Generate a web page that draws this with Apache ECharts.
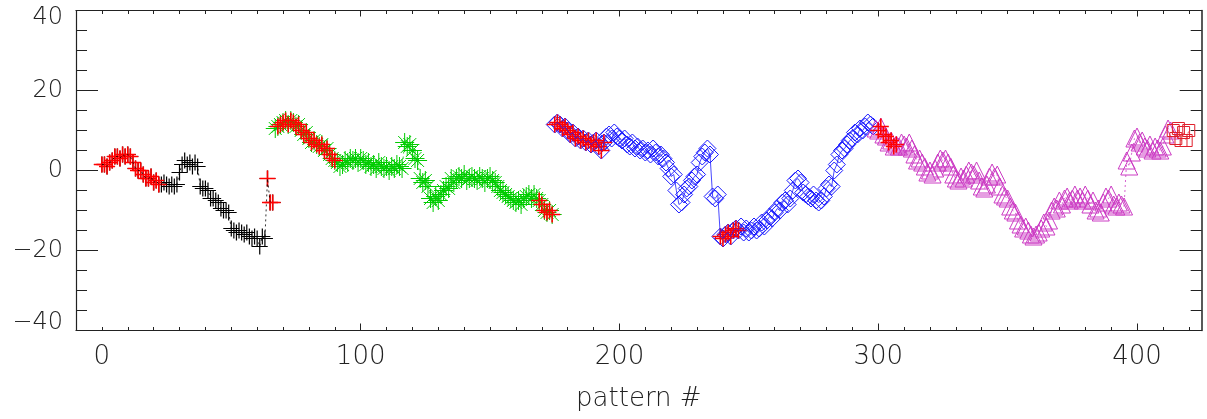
<!DOCTYPE html>
<html><head><meta charset="utf-8">
<script src="https://cdn.jsdelivr.net/npm/echarts@6/dist/echarts.min.js"></script>
<style>html,body{margin:0;padding:0;background:#fff}#c{width:1207px;height:419px}</style>
</head><body><div id="c"></div>
<script>
// ---- data ----
const xTickLabels = [0, 100, 200, 300, 400];
const xMajorTicks = [100, 200, 300, 400];
const xMinorTicks = [0,10,20,30,40,50,60,70,80,90,110,120,130,140,150,160,170,180,190,210,220,230,240,250,260,270,280,290,310,320,330,340,350,360,370,380,390,410,420];
const yTickLabels = [-40, -20, 0, 20, 40];

const blackStart = 0;
const blackY = [1.5,1.5,1.0,2.0,2.5,3.5,3.5,3.0,4.0,3.5,
  4.0,3.5,2.0,0.5,0.0,0.0,-1.0,-2.0,-2.0,-1.5,
  -3.0,-2.5,-3.5,-3.5,-3.0,-3.5,-4.0,-3.5,-4.0,-3.5,
  -0.5,1.5,2.5,1.5,2.0,1.0,2.0,1.0,-4.0,-4.5,
  -4.5,-5.0,-7.0,-7.0,-7.5,-8.0,-9.5,-10.0,-10.0,-10.5,
  -14.5,-15.0,-15.5,-15.0,-15.5,-16.0,-15.5,-16.5,-17.0,-16.5,
  -17.0,-19.0,-16.5,-17.0,-2.0,-8.0,-8.0];

const greenStart = 67;
const greenY = [10.5,11.0,11.5,12.0,12.5,11.5,12.5,12.0,11.0,11.5,
  10.0,9.0,9.5,8.0,7.0,7.5,6.5,6.0,6.5,5.0,
  5.5,4.0,3.0,2.5,2.0,1.0,1.5,2.5,2.0,3.0,
  2.5,3.0,2.0,3.0,2.5,1.5,2.0,1.0,1.5,0.5,
  2.0,1.0,0.5,1.0,0.0,1.0,0.5,1.5,1.0,0.5,
  7.0,6.0,6.5,5.0,3.0,2.5,-2.0,-3.0,-2.5,-4.0,
  -7.0,-8.0,-6.5,-7.5,-6.0,-5.0,-4.0,-4.5,-2.0,-3.0,
  -2.0,-1.5,-2.0,-1.0,-2.5,-2.0,-1.5,-2.0,-2.5,-1.5,
  -2.0,-3.0,-2.0,-1.5,-2.5,-3.0,-4.0,-5.0,-5.5,-6.0,
  -6.5,-7.0,-7.5,-8.0,-7.5,-8.5,-7.0,-6.5,-6.0,-7.0,
  -6.0,-7.0,-7.5,-8.5,-10.0,-10.5,-10.0,-11.0];

const blueStart = 175;
const blueY = [11.5,12.0,11.5,10.5,11.0,10.0,9.0,9.5,8.0,8.5,
  7.5,8.0,7.0,7.5,6.5,7.0,7.5,6.0,5.0,7.0,
  8.5,9.0,8.0,9.5,8.5,8.0,7.5,8.0,6.5,6.0,
  7.0,5.5,6.0,5.0,5.5,4.5,5.0,4.0,5.5,4.5,
  3.5,4.0,3.0,2.0,0.5,-1.5,-1.0,-5.0,-8.5,-8.0,
  -6.0,-4.5,-4.0,-2.5,-1.5,-1.0,2.0,3.5,4.5,5.5,
  4.0,-6.5,-7.0,-6.0,-16.5,-17.0,-16.0,-15.5,-16.5,-15.0,
  -14.5,-15.0,-14.0,-15.5,-14.5,-15.5,-15.0,-14.0,-15.0,-14.5,
  -13.0,-14.0,-12.5,-11.5,-12.0,-10.5,-9.5,-10.0,-8.0,-7.5,
  -8.5,-7.0,-5.0,-2.5,-2.0,-3.0,-5.5,-6.0,-6.5,-7.0,
  -6.0,-7.5,-8.0,-7.5,-6.5,-4.5,-3.5,-4.0,0.0,1.5,
  4.0,5.0,5.5,6.5,7.5,8.0,9.5,9.0,10.5,10.0,
  11.0,12.0,11.5,11.0];

const magentaStart = 299;
const magentaY = [10.5,10.0,11.0,9.0,8.5,7.0,7.5,6.0,6.5,6.0,
  7.0,6.5,6.0,7.0,5.5,4.0,2.5,3.0,2.0,1.0,
  -0.5,0.0,-1.0,0.5,2.0,3.0,2.5,3.0,2.0,1.0,
  -1.0,-2.0,-2.5,-1.5,-2.0,-1.0,0.0,-0.5,-1.0,0.0,
  -2.5,-4.0,-4.5,-3.5,-1.5,-0.5,-1.5,-1.0,-4.0,-6.0,
  -6.5,-7.0,-9.0,-10.0,-10.5,-12.5,-13.5,-14.5,-14.0,-15.0,
  -16.0,-16.5,-16.0,-15.5,-14.5,-13.0,-14.0,-12.5,-10.0,-9.0,
  -9.5,-7.5,-8.5,-7.0,-6.5,-7.5,-7.0,-6.0,-7.0,-6.5,
  -7.5,-6.0,-7.0,-8.5,-7.5,-10.0,-9.5,-10.5,-8.0,-6.5,
  -7.0,-6.0,-8.5,-9.0,-8.0,-8.5,-9.0,2.5,1.0,4.5,
  8.0,8.5,7.0,7.5,6.0,5.5,6.5,5.0,6.0,5.5,
  5.0,6.0,9.0,10.5,10.0];

const squareStart = 414;
const squareY = [10.0,8.0,10.5,7.5,9.5,7.5,10.0];

// pattern ranges marked in red
const redRanges = [[0,22],[64,66],[68,90],[169,174],[175,194],[239,246],[300,307]];

// ---- build ----
function pts(start, ys) { return ys.map((y, i) => [start + i, y]); }
const PLUS = 'path://M0,5L10,5M5,0L5,10';
const segs = [
  { d: pts(blackStart, blackY), c: '#000000', sym: PLUS, size: 16, bw: 1.2, dash: [2, 3] },
  { d: pts(greenStart, greenY), c: '#00cc00', sym: 'path://M0,5L10,5M5,0L5,10M1.6,1.6L8.4,8.4M1.6,8.4L8.4,1.6', size: 19, bw: 1, dash: [2, 3] },
  { d: pts(blueStart, blueY), c: '#1a1aff', sym: 'path://M5,0L10,5L5,10L0,5Z', size: 17, bw: 1, dash: 'solid' },
  { d: pts(magentaStart, magentaY), c: '#cc3cc4', sym: 'path://M0,10L5,0L10,10Z', size: 17, bw: 1, dash: [2, 3] },
  { d: pts(squareStart, squareY), c: '#e0202c', sym: 'path://M0,0L10,0L10,10L0,10Z', size: 12, bw: 1, dash: [2, 3] }
];
const lookup = {};
segs.forEach(s => s.d.forEach(p => { lookup[p[0]] = p[1]; }));
const redPts = [];
redRanges.forEach(r => { for (let x = r[0]; x <= r[1]; x++) if (lookup[x] !== undefined) redPts.push([x, lookup[x]]); });

const series = [];
segs.forEach(s => {
  series.push({ type: 'line', data: s.d, symbol: 'none', silent: true,
    lineStyle: { color: s.c, width: 0.8, type: s.dash } });
  series.push({ type: 'scatter', data: s.d, symbol: s.sym, symbolSize: s.size, silent: true,
    itemStyle: { color: 'rgba(0,0,0,0)', borderColor: s.c, borderWidth: s.bw, opacity: 1 } });
});
series.push({ type: 'scatter', data: redPts, symbol: PLUS, symbolSize: 16, silent: true,
  itemStyle: { color: 'rgba(0,0,0,0)', borderColor: '#ff0000', borderWidth: 1.6, opacity: 1 } });

const axisCol = '#222';
const txt = { fontFamily: 'DejaVu Sans', fontWeight: 200, color: '#222' };
const xBase = { type: 'value', min: -10, max: 425, splitLine: { show: false }, gridIndex: 0 };
const option = {
  animation: false,
  backgroundColor: '#fff',
  grid: { left: 76, right: 5.3, top: 10.5, bottom: 88.5, containLabel: false, outerBoundsMode: 'none' },
  xAxis: [
    Object.assign({}, xBase, { position: 'bottom',
      axisLine: { show: true, onZero: false, lineStyle: { color: axisCol, width: 1.2 } },
      axisTick: { show: true, inside: true, length: 7, customValues: xMajorTicks, lineStyle: { color: axisCol } },
      axisLabel: Object.assign({ customValues: xTickLabels, fontSize: 26, margin: 14 }, txt),
      name: 'pattern #', nameLocation: 'middle', nameGap: 56,
      nameTextStyle: Object.assign({ fontSize: 26 }, txt) }),
    Object.assign({}, xBase, { position: 'bottom',
      axisLine: { show: false, onZero: false },
      axisTick: { show: true, inside: true, length: 3.5, customValues: xMinorTicks, lineStyle: { color: axisCol } },
      axisLabel: { show: false } }),
    Object.assign({}, xBase, { position: 'top',
      axisLine: { show: true, onZero: false, lineStyle: { color: axisCol, width: 1.2 } },
      axisTick: { show: true, inside: true, length: 6, customValues: xMajorTicks, lineStyle: { color: axisCol } },
      axisLabel: { show: false } }),
    Object.assign({}, xBase, { position: 'top',
      axisLine: { show: false, onZero: false },
      axisTick: { show: true, inside: true, length: 3.5, customValues: xMinorTicks, lineStyle: { color: axisCol } },
      axisLabel: { show: false } })
  ],
  yAxis: [
    { type: 'value', position: 'left', min: -40, max: 40, interval: 20, splitLine: { show: false },
      axisLine: { show: true, onZero: false, lineStyle: { color: axisCol, width: 1.2 } },
      axisTick: { show: true, inside: true, length: 22, lineStyle: { color: axisCol } },
      minorTick: { show: true, splitNumber: 4, length: 11, lineStyle: { color: axisCol } },
      axisLabel: Object.assign({ fontSize: 24, margin: 13,
        customValues: yTickLabels,
        formatter: v => {
          const s = v < 0 ? '\u2212' + (-v) : String(v);
          if (v === 40) return '{t|' + s + '}';
          if (v === -40) return '{b|' + s + '}';
          return s;
        },
        rich: {
          t: Object.assign({ fontSize: 24, padding: [14, 0, 0, 0] }, txt),
          b: Object.assign({ fontSize: 24, padding: [0, 0, 15, 0] }, txt)
        } }, txt) },
    { type: 'value', position: 'right', min: -40, max: 40, interval: 20, splitLine: { show: false },
      axisLine: { show: true, onZero: false, lineStyle: { color: axisCol, width: 1.5 } },
      axisTick: { show: true, inside: true, length: 22, lineStyle: { color: axisCol } },
      minorTick: { show: true, splitNumber: 4, length: 11, lineStyle: { color: axisCol } },
      axisLabel: { show: false } }
  ],
  series: series
};
echarts.init(document.getElementById('c'), null, { renderer: 'canvas' }).setOption(option);
</script>
</body></html>
